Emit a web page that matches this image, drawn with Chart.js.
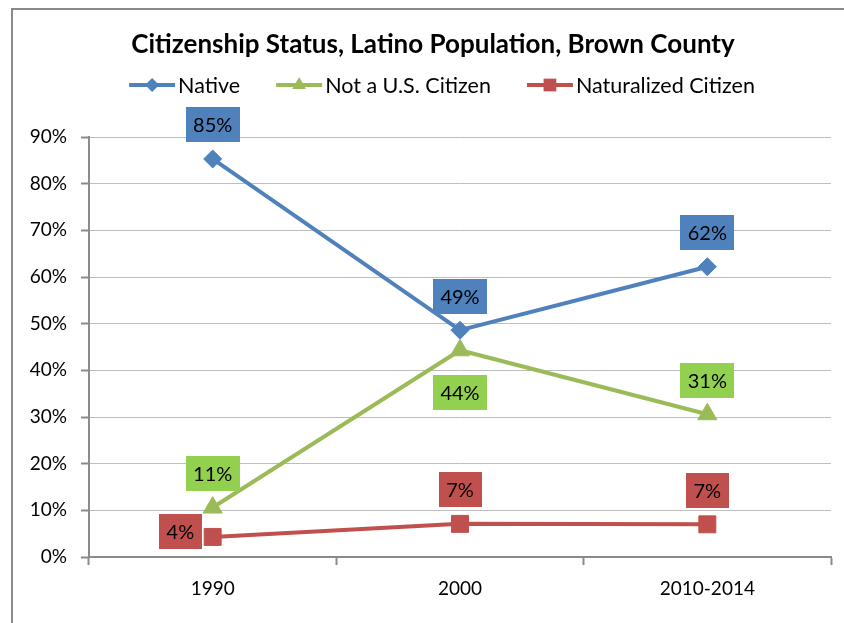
<!DOCTYPE html>
<html>
<head>
<meta charset="utf-8">
<script src="https://cdn.jsdelivr.net/npm/chart.js@4.4.1/dist/chart.umd.min.js"></script>
<style>
  html, body { margin: 0; padding: 0; background: #fff; }
  #wrap { position: relative; width: 844px; height: 623px; overflow: hidden; }
  canvas { position: absolute; left: 0; top: 0; }
</style>
</head>
<body>
<div id="wrap"><canvas id="c" width="844" height="623"></canvas></div>
<script>
// ---- data ----
const categories = ['1990', '2000', '2010-2014'];
const nativeVals = [0.853, 0.486, 0.622];
const notCitizenVals = [0.106, 0.443, 0.306];
const naturalizedVals = [0.043, 0.071, 0.070];
const yTicks = [0, 0.1, 0.2, 0.3, 0.4, 0.5, 0.6, 0.7, 0.8, 0.9];
const titleText = 'Citizenship Status, Latino Population, Brown County';

const FONT = 'Lato, "Open Sans", sans-serif';

const seriesStyle = [
  { line: '#4F81BD', box: '#4F81BD', pointStyle: 'rectRot', r: 9, lr: 7, pos: ['top', 'top', 'top'] },
  { line: '#9BBB59', box: '#92D050', pointStyle: 'triangle', r: 11, lr: 8, pos: ['top', 'bottom', 'top'] },
  { line: '#C0504D', box: '#C0504D', pointStyle: 'rect', r: 12, lr: 9, pos: ['left', 'top', 'top'] }
];

function makeDataset(label, data, s) {
  return {
    label, data,
    borderColor: s.line, backgroundColor: s.line,
    pointBackgroundColor: s.line, pointBorderColor: s.line,
    borderWidth: 4, pointStyle: s.pointStyle, pointRadius: s.r, pointHoverRadius: s.r,
    pointBorderWidth: 1, tension: 0,
    labelPos: s.pos, boxColor: s.box, legendRadius: s.lr
  };
}

function drawMarker(ctx, style, x, y, r) {
  if (style === 'rectRot') {
    ctx.moveTo(x, y - r); ctx.lineTo(x + r, y); ctx.lineTo(x, y + r); ctx.lineTo(x - r, y); ctx.closePath();
  } else if (style === 'triangle') {
    ctx.moveTo(x, y - r); ctx.lineTo(x + r * 0.866, y + r * 0.5); ctx.lineTo(x - r * 0.866, y + r * 0.5); ctx.closePath();
  } else {
    const s = r * 0.707;
    ctx.rect(x - s, y - s, 2 * s, 2 * s);
  }
}

const frame = {
  id: 'frame',
  beforeDraw(chart) {
    const ctx = chart.ctx;
    ctx.save();
    ctx.fillStyle = '#8a8a8a';
    ctx.fillRect(11, 8, 900, 2);
    ctx.fillRect(11, 8, 2, 700);
    // title
    ctx.fillStyle = '#000';
    ctx.font = 'bold 26px ' + FONT;
    ctx.textAlign = 'center';
    ctx.textBaseline = 'middle';
    ctx.fillText(titleText, 433, 45);
    // legend
    ctx.font = '21.5px ' + FONT;
    const lineW = 46, gapText = 3, gapItem = 36;
    const items = chart.data.datasets.map(d => ({ d, w: ctx.measureText(d.label).width }));
    const total = items.reduce((a, it) => a + lineW + gapText + it.w, 0) + gapItem * (items.length - 1);
    let x = 442 - total / 2;
    const y = 85;
    items.forEach(it => {
      const d = it.d;
      ctx.strokeStyle = d.borderColor;
      ctx.lineWidth = 4;
      ctx.beginPath();
      ctx.moveTo(x, y); ctx.lineTo(x + lineW, y);
      ctx.stroke();
      ctx.fillStyle = d.borderColor;
      ctx.beginPath();
      drawMarker(ctx, d.pointStyle, x + lineW / 2, y, d.legendRadius);
      ctx.fill();
      ctx.fillStyle = '#000';
      ctx.textAlign = 'left';
      ctx.fillText(d.label, x + lineW + gapText, y + 1);
      x += lineW + gapText + it.w + gapItem;
    });
    ctx.restore();
  },
  afterDatasetsDraw(chart) {
    const ctx = chart.ctx;
    ctx.save();
    ctx.font = '20px ' + FONT;
    ctx.textBaseline = 'middle';
    ctx.textAlign = 'center';
    chart.data.datasets.forEach((d, i) => {
      const meta = chart.getDatasetMeta(i);
      meta.data.forEach((pt, j) => {
        const txt = Math.round(d.data[j] * 100) + '%';
        const tw = ctx.measureText(txt).width;
        const bw = tw + 15, bh = 35;
        let cx = pt.x, cy = pt.y;
        const pos = d.labelPos[j];
        if (pos === 'top') cy = pt.y - 34;
        else if (pos === 'bottom') cy = pt.y + 42;
        else if (pos === 'left') { cx = pt.x - 11 - bw / 2; cy = pt.y - 5; }
        ctx.fillStyle = d.boxColor;
        ctx.fillRect(Math.round(cx - bw / 2), Math.round(cy - bh / 2), Math.round(bw), bh);
        ctx.fillStyle = '#000';
        ctx.fillText(txt, cx, cy + 1);
      });
    });
    ctx.restore();
  }
};

new Chart(document.getElementById('c'), {
  type: 'line',
  data: {
    labels: categories,
    datasets: [
      makeDataset('Native', nativeVals, seriesStyle[0]),
      makeDataset('Not a U.S. Citizen', notCitizenVals, seriesStyle[1]),
      makeDataset('Naturalized Citizen', naturalizedVals, seriesStyle[2])
    ]
  },
  options: {
    responsive: false,
    animation: false,
    layout: { padding: { left: 0, right: 9, top: 137, bottom: 0 } },
    plugins: { legend: { display: false }, title: { display: false }, tooltip: { enabled: false } },
    scales: {
      x: {
        offset: true,
        grid: { offset: true, drawOnChartArea: false, tickLength: 8, tickColor: '#8a8a8a', tickWidth: 2 },
        border: { color: '#8a8a8a', width: 2 },
        ticks: { color: '#000', font: { family: FONT, size: 19 }, padding: 12 },
        afterFit(s) { s.height = 66; s.paddingLeft = 0; s.paddingRight = 0; }
      },
      y: {
        min: 0, max: 0.9,
        afterBuildTicks(s) { s.ticks = yTicks.map(v => ({ value: v })); },
        grid: { color: '#bdbdbd', lineWidth: 1, tickLength: 8, tickColor: '#8a8a8a', tickWidth: 2 },
        border: { color: '#8a8a8a', width: 2 },
        ticks: {
          color: '#000', font: { family: FONT, size: 19 }, padding: 14,
          callback: v => Math.round(v * 100) + '%'
        },
        afterFit(s) { s.width = 89; }
      }
    }
  },
  plugins: [frame]
});
</script>
</body>
</html>
